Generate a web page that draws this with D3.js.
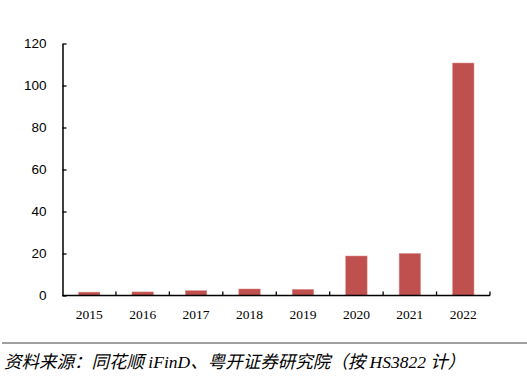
<!DOCTYPE html>
<html>
<head>
<meta charset="utf-8">
<script src="https://cdn.jsdelivr.net/npm/d3@7"></script>
<style>
  body { margin: 0; background: #fff; }
</style>
</head>
<body>
<script>
let width = 527;
let height = 379;

// data
let years = ["2015", "2016", "2017", "2018", "2019", "2020", "2021", "2022"];
let values = [1.6, 1.7, 2.3, 3.1, 2.9, 18.8, 20.0, 110.7];
let yTicks = [0, 20, 40, 60, 80, 100, 120];
let source = "资料来源：同花顺 iFinD、粤开证券研究院（按 HS3822 计）";

let svg = d3.select("body")
            .append("svg")
            .attr("width", width)
            .attr("height", height)
            .style("font-family", "'Liberation Serif', 'Times New Roman', serif");

let x = d3.scaleBand()
          .domain(years)
          .range([62.5, 490])
          .paddingInner(0.6)
          .paddingOuter(0.3);

let y = d3.scaleLinear()
          .domain([0, 120])
          .range([295.5, 43.5]);

// bars
svg.append("g")
   .selectAll("rect")
   .data(values)
   .enter()
   .append("rect")
   .attr("x", (d, i) => x(years[i]))
   .attr("y", d => y(d))
   .attr("width", x.bandwidth())
   .attr("height", d => y(0) - y(d))
   .attr("fill", "#c0504d")
   .attr("stroke", "#d98a88")
   .attr("stroke-width", 0.5);

// y axis, ticks point inside
let yAxis = svg.append("g")
   .attr("transform", "translate(62.5,0)")
   .call(d3.axisLeft(y).tickValues(yTicks).tickSizeInner(-4).tickSizeOuter(0).tickPadding(16));
yAxis.select(".domain").attr("stroke", "#000").attr("stroke-width", 1.5);
yAxis.selectAll(".tick line").attr("stroke", "#000").attr("stroke-width", 1.3);
yAxis.selectAll("text").attr("font-size", 13.5).attr("fill", "#000");

// x axis: separator ticks between categories
let sepScale = d3.scaleLinear().domain([0, years.length]).range([62.5, 490]);
let xAxis = svg.append("g")
   .attr("transform", "translate(0,295.5)");
xAxis.append("path")
   .attr("d", d3.line()([[62.5, 0], [490, 0]]))
   .attr("stroke", "#000")
   .attr("stroke-width", 1.5);
xAxis.selectAll(".sep")
   .data(d3.range(1, years.length + 1))
   .enter()
   .append("line")
   .attr("x1", d => sepScale(d))
   .attr("x2", d => sepScale(d))
   .attr("y1", 0)
   .attr("y2", -4)
   .attr("stroke", "#000")
   .attr("stroke-width", 1.3);
xAxis.selectAll(".lbl")
   .data(years)
   .enter()
   .append("text")
   .attr("x", d => x(d) + x.bandwidth() / 2)
   .attr("y", 23)
   .attr("text-anchor", "middle")
   .attr("font-size", 13.5)
   .attr("fill", "#000")
   .text(d => d);

// source footer
svg.append("line")
   .attr("x1", 2).attr("x2", 527)
   .attr("y1", 343).attr("y2", 343)
   .attr("stroke", "#a0a0a0")
   .attr("stroke-width", 2);
svg.append("text")
   .attr("x", 4)
   .attr("y", 368)
   .attr("font-size", 17.5)
   .attr("font-style", "italic")
   .attr("fill", "#000")
   .style("font-family", "'Liberation Serif', 'Noto Sans CJK SC', serif")
   .text(source);
</script>
</body>
</html>
